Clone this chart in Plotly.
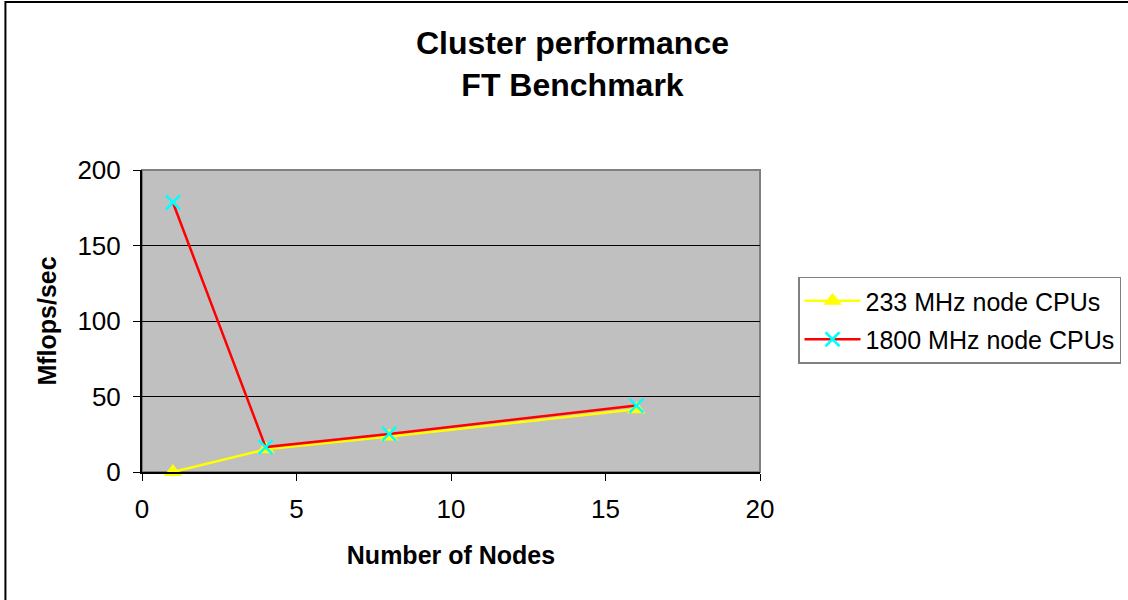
import plotly.graph_objects as go

# data
nodes = [1, 4, 8, 16]
mhz233 = [0, 15, 23.5, 41.5]
mhz1800 = [178.5, 16.5, 25.2, 44]
series_names = ["233 MHz node CPUs", "1800 MHz node CPUs"]
x_ticks = [0, 5, 10, 15, 20]
y_ticks = [0, 50, 100, 150, 200]

FONT = "Liberation Sans, Arial, sans-serif"

fig = go.Figure()

fig.add_trace(go.Scatter(
    x=nodes, y=mhz233, name=series_names[0], legendgroup="a",
    mode="lines+markers", cliponaxis=False,
    line=dict(color="#FFFF00", width=2.5),
    marker=dict(symbol="triangle-up", size=16, color="#FFFF00"),
))
fig.add_trace(go.Scatter(
    x=nodes, y=mhz1800, name=series_names[1], legendgroup="b",
    mode="lines+markers", cliponaxis=False,
    line=dict(color="#FF0000", width=2.5),
    marker=dict(symbol="x-thin", size=14, color="#00FFFF",
                line=dict(color="#00FFFF", width=2.5)),
))

# plot area border (grey) and chart frame (black)
fig.add_shape(type="rect", xref="paper", yref="paper", x0=0, x1=1, y0=0, y1=1,
              line=dict(color="#808080", width=2), layer="below")
fig.add_shape(type="rect", xref="paper", yref="paper",
              x0=-0.221, x1=1.7, y0=-0.6, y1=1.556,
              line=dict(color="black", width=2))

# chart title as an annotation so both lines sit where they should
fig.add_annotation(
    text="<b>Cluster performance<br>FT Benchmark</b>",
    xref="paper", yref="paper", x=(572 - 142) / 618, y=(472 - 64) / 302,
    xanchor="center", yanchor="middle", showarrow=False,
    font=dict(size=32, family=FONT, color="black"),
)

fig.update_layout(
    width=1128, height=600,
    margin=dict(l=142, r=368, t=170, b=128, autoexpand=False),
    paper_bgcolor="white",
    plot_bgcolor="#C0C0C0",
    font=dict(family=FONT, size=26, color="black"),
    showlegend=True,
    legend=dict(
        xref="container", yref="container",
        x=798 / 1128, xanchor="left", y=1 - 320 / 600, yanchor="middle",
        bgcolor="white", bordercolor="#808080", borderwidth=1.5,
        font=dict(size=25, family=FONT),
        itemwidth=56, tracegroupgap=3,
    ),
    xaxis=dict(
        range=[0, 20], tickvals=x_ticks, showgrid=False, zeroline=False,
        showline=True, linecolor="black", linewidth=2,
        ticks="outside", ticklen=7, tickcolor="black", ticklabelstandoff=6,
        title=dict(text="<b>Number of Nodes</b>", font=dict(size=25), standoff=23),
    ),
    yaxis=dict(
        range=[0, 200], tickvals=y_ticks, showgrid=True,
        gridcolor="black", gridwidth=1, zeroline=False,
        showline=True, linecolor="black", linewidth=2,
        ticks="outside", ticklen=7, tickcolor="black", ticklabelstandoff=7,
        title=dict(text="<b>Mflops/sec</b>", font=dict(size=25), standoff=14),
    ),
)

fig.write_html("out.html", config={"displayModeBar": False},
               post_script="document.body.style.margin='0';")
